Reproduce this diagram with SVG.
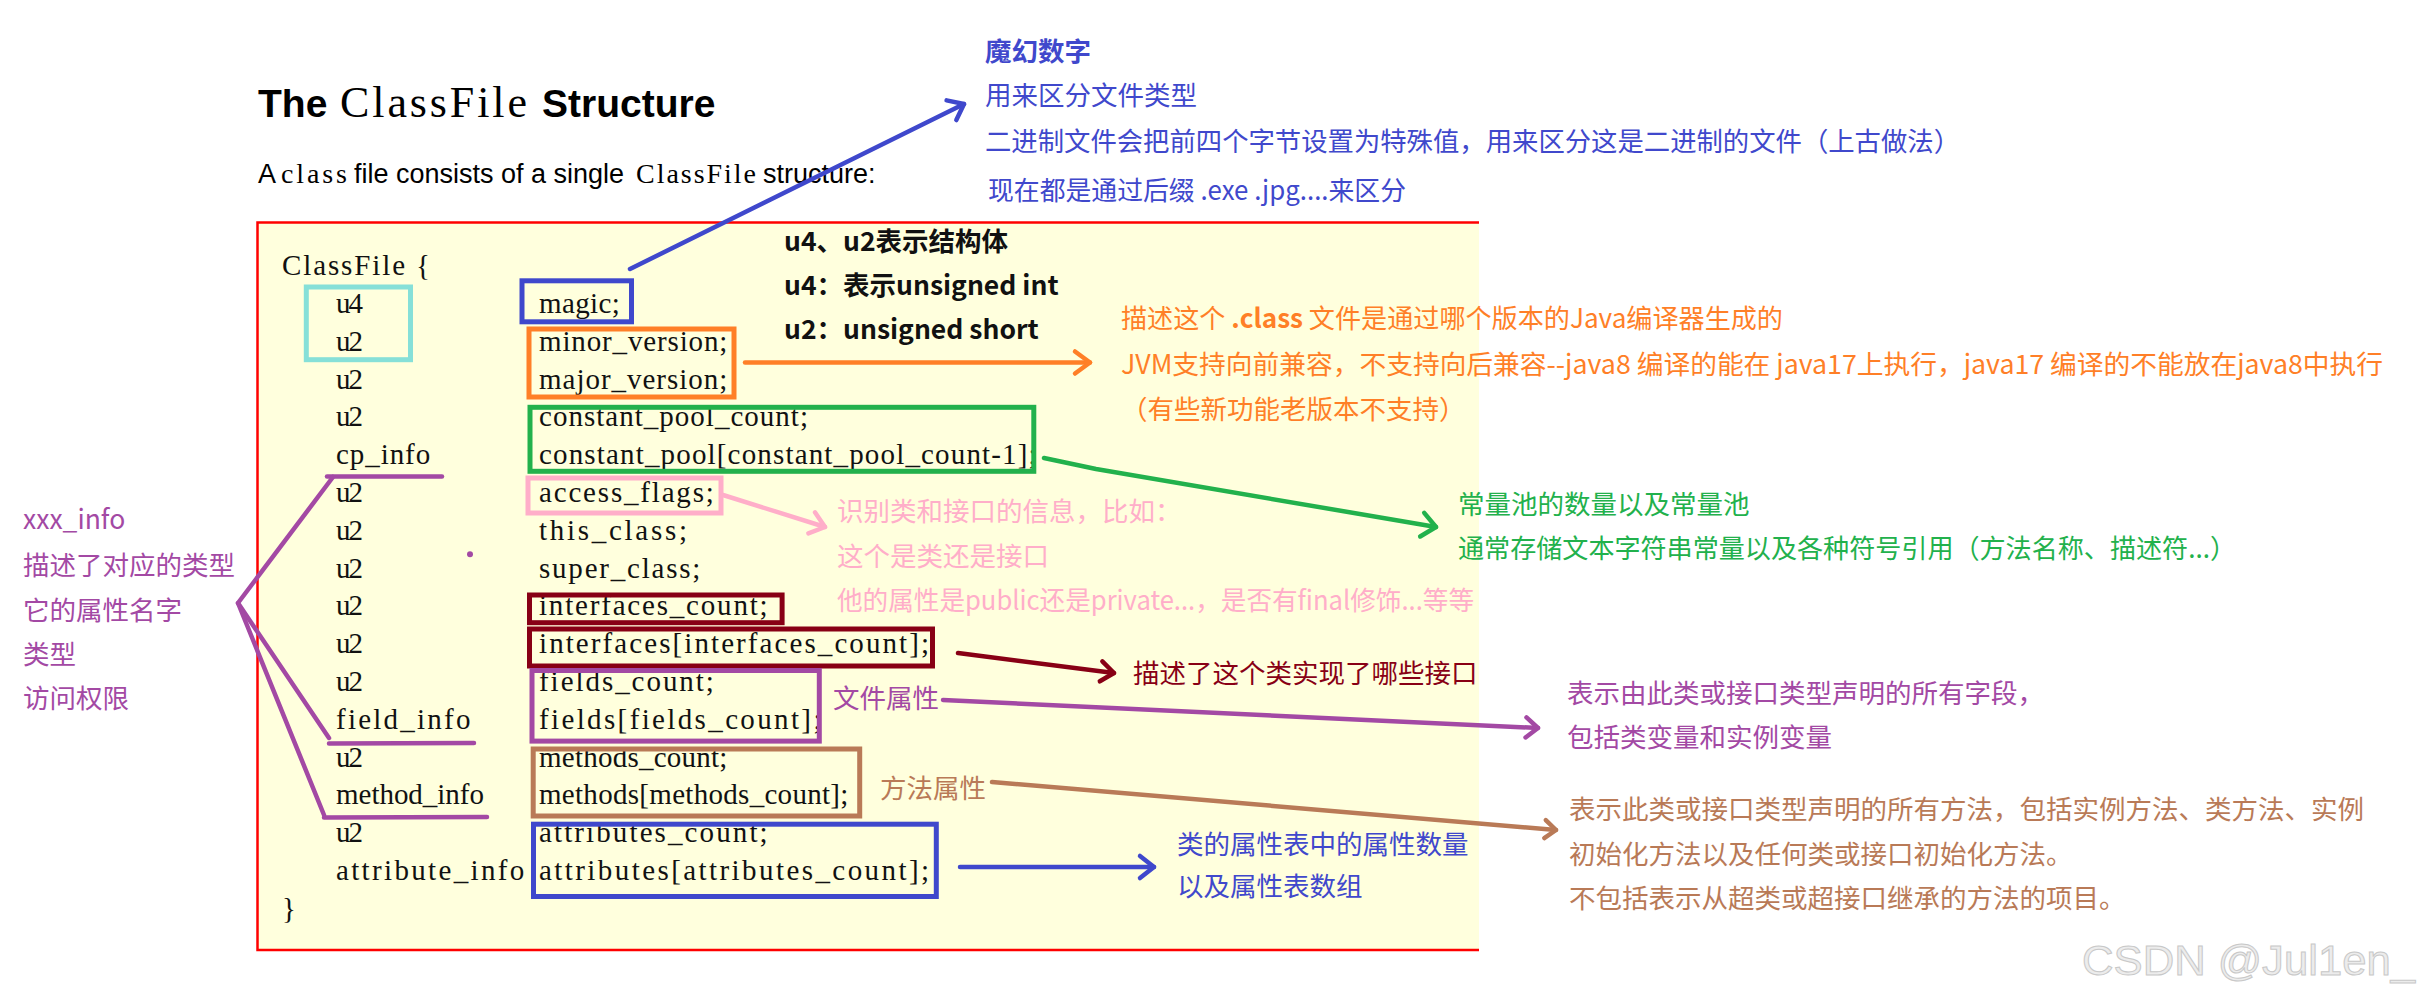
<svg xmlns="http://www.w3.org/2000/svg" width="2423" height="992" viewBox="0 0 2423 992">
<defs>
<style>
.bg{fill:#ffffff}
.code{font-family:"Liberation Serif","Times New Roman",serif;font-size:29px;fill:#111111}
.h1{font-family:"Liberation Sans",Arial,sans-serif;font-size:39px;font-weight:bold;fill:#000}
.h1m{font-family:"Liberation Serif","Times New Roman",serif;font-size:44px;fill:#000}
.sub{font-family:"Liberation Sans",Arial,sans-serif;font-size:27px;fill:#000}
.subm{font-family:"Liberation Serif","Times New Roman",serif;font-size:28px;fill:#000}
.note{font-family:"Noto Sans CJK SC","Liberation Sans",sans-serif;font-size:26.5px}
.b{font-weight:bold}
.c-blue{fill:#4048CC}
.c-orange{fill:#FF7F27}
.c-green{fill:#22B14C}
.c-pink{fill:#FFAEC9}
.c-dred{fill:#880015}
.c-purple{fill:#A349A4}
.c-brown{fill:#B97A57}
.c-black{fill:#111111}
.box{fill:none;stroke-width:5}
.ln{fill:none;stroke-width:4.5;stroke-linecap:round;stroke-linejoin:round}
.wm{font-family:"Liberation Sans",Arial,sans-serif;font-size:43px;fill:#ECECEC;stroke:#C8C8C8;stroke-width:1}
</style>
<marker id="ah-blue" viewBox="-20 -16 26 32" refX="0" refY="0" markerWidth="26" markerHeight="32" markerUnits="userSpaceOnUse" orient="auto" overflow="visible"><path d="M-14,-11 L0,0 L-14,11" fill="none" stroke="#3F48CC" stroke-width="4.5" stroke-linecap="round" stroke-linejoin="round"/></marker>
<marker id="ah-orange" viewBox="-20 -16 26 32" refX="0" refY="0" markerWidth="26" markerHeight="32" markerUnits="userSpaceOnUse" orient="auto" overflow="visible"><path d="M-15,-11 L0,0 L-15,11" fill="none" stroke="#FF7F27" stroke-width="4.5" stroke-linecap="round" stroke-linejoin="round"/></marker>
<marker id="ah-green" viewBox="-20 -16 26 32" refX="0" refY="0" markerWidth="26" markerHeight="32" markerUnits="userSpaceOnUse" orient="auto" overflow="visible"><path d="M-14,-12 L0,0 L-14,12" fill="none" stroke="#22B14C" stroke-width="4.5" stroke-linecap="round" stroke-linejoin="round"/></marker>
<marker id="ah-pink" viewBox="-20 -16 26 32" refX="0" refY="0" markerWidth="26" markerHeight="32" markerUnits="userSpaceOnUse" orient="auto" overflow="visible"><path d="M-14,-11 L0,0 L-14,11" fill="none" stroke="#FFAEC9" stroke-width="4.5" stroke-linecap="round" stroke-linejoin="round"/></marker>
<marker id="ah-dred" viewBox="-20 -16 26 32" refX="0" refY="0" markerWidth="26" markerHeight="32" markerUnits="userSpaceOnUse" orient="auto" overflow="visible"><path d="M-13,-10 L0,0 L-13,10" fill="none" stroke="#880015" stroke-width="4.5" stroke-linecap="round" stroke-linejoin="round"/></marker>
<marker id="ah-purple" viewBox="-20 -16 26 32" refX="0" refY="0" markerWidth="26" markerHeight="32" markerUnits="userSpaceOnUse" orient="auto" overflow="visible"><path d="M-12,-10 L0,0 L-12,10" fill="none" stroke="#A349A4" stroke-width="4.5" stroke-linecap="round" stroke-linejoin="round"/></marker>
<marker id="ah-brown" viewBox="-20 -16 26 32" refX="0" refY="0" markerWidth="26" markerHeight="32" markerUnits="userSpaceOnUse" orient="auto" overflow="visible"><path d="M-11,-9 L0,0 L-11,9" fill="none" stroke="#B97A57" stroke-width="4.5" stroke-linecap="round" stroke-linejoin="round"/></marker>
</defs>
<rect class="bg" x="0" y="0" width="2423" height="992"/>

<g id="title">
<text class="h1" x="258" y="117">The</text>
<text class="h1m" x="340" y="117" textLength="187" lengthAdjust="spacing">ClassFile</text>
<text class="h1" x="542" y="117">Structure</text>
</g>

<g id="subtitle">
<text class="sub" x="258" y="183">A</text>
<text class="subm" x="281" y="183" textLength="66" lengthAdjust="spacing">class</text>
<text class="sub" x="354" y="183">file consists of a single</text>
<text class="subm" x="636" y="183" textLength="120" lengthAdjust="spacing">ClassFile</text>
<text class="sub" x="763" y="183">structure:</text>
</g>

<g id="classfile-block">
<rect x="257" y="222" width="1222" height="729" fill="#FFFFDD"/>
<path d="M1479,222.5 H257.5 V950 H1479" fill="none" stroke="#FF0000" stroke-width="2.5"/>
<text class="code" x="282" y="275.2" textLength="147.95" lengthAdjust="spacing">ClassFile {</text>
<text class="code" x="336" y="313" textLength="26.9" lengthAdjust="spacing">u4</text>
<text class="code" x="336" y="350.8" textLength="26.9" lengthAdjust="spacing">u2</text>
<text class="code" x="336" y="388.6" textLength="26.9" lengthAdjust="spacing">u2</text>
<text class="code" x="336" y="426.4" textLength="26.9" lengthAdjust="spacing">u2</text>
<text class="code" x="336" y="464.2" textLength="94.15" lengthAdjust="spacing">cp_info</text>
<text class="code" x="336" y="502" textLength="26.9" lengthAdjust="spacing">u2</text>
<text class="code" x="336" y="539.8" textLength="26.9" lengthAdjust="spacing">u2</text>
<text class="code" x="336" y="577.6" textLength="26.9" lengthAdjust="spacing">u2</text>
<text class="code" x="336" y="615.4" textLength="26.9" lengthAdjust="spacing">u2</text>
<text class="code" x="336" y="653.2" textLength="26.9" lengthAdjust="spacing">u2</text>
<text class="code" x="336" y="691" textLength="26.9" lengthAdjust="spacing">u2</text>
<text class="code" x="336" y="728.8" textLength="134.5" lengthAdjust="spacing">field_info</text>
<text class="code" x="336" y="766.6" textLength="26.9" lengthAdjust="spacing">u2</text>
<text class="code" x="336" y="804.4" textLength="147.95" lengthAdjust="spacing">method_info</text>
<text class="code" x="336" y="842.2" textLength="26.9" lengthAdjust="spacing">u2</text>
<text class="code" x="336" y="880" textLength="188.3" lengthAdjust="spacing">attribute_info</text>
<text class="code" x="539" y="313" textLength="80.7" lengthAdjust="spacing">magic;</text>
<text class="code" x="539" y="350.8" textLength="188.3" lengthAdjust="spacing">minor_version;</text>
<text class="code" x="539" y="388.6" textLength="188.3" lengthAdjust="spacing">major_version;</text>
<text class="code" x="539" y="426.4" textLength="269" lengthAdjust="spacing">constant_pool_count;</text>
<text class="code" x="539" y="464.2" textLength="497.65" lengthAdjust="spacing">constant_pool[constant_pool_count-1];</text>
<text class="code" x="539" y="502" textLength="174.85" lengthAdjust="spacing">access_flags;</text>
<text class="code" x="539" y="539.8" textLength="147.95" lengthAdjust="spacing">this_class;</text>
<text class="code" x="539" y="577.6" textLength="161.4" lengthAdjust="spacing">super_class;</text>
<text class="code" x="539" y="615.4" textLength="228.65" lengthAdjust="spacing">interfaces_count;</text>
<text class="code" x="539" y="653.2" textLength="390.05" lengthAdjust="spacing">interfaces[interfaces_count];</text>
<text class="code" x="539" y="691" textLength="174.85" lengthAdjust="spacing">fields_count;</text>
<text class="code" x="539" y="728.8" textLength="282.45" lengthAdjust="spacing">fields[fields_count];</text>
<text class="code" x="539" y="766.6" textLength="188.3" lengthAdjust="spacing">methods_count;</text>
<text class="code" x="539" y="804.4" textLength="309.35" lengthAdjust="spacing">methods[methods_count];</text>
<text class="code" x="539" y="842.2" textLength="228.65" lengthAdjust="spacing">attributes_count;</text>
<text class="code" x="539" y="880" textLength="390.05" lengthAdjust="spacing">attributes[attributes_count];</text>
<text class="code" x="282" y="917.8">}</text>
</g>

<g id="highlights">
<rect id="box-u4u2" class="box" x="306.3" y="287" width="104.2" height="72.7" stroke="#86E0D8" stroke-width="4"/>
<rect id="box-magic" class="box" x="522" y="280.8" width="109.5" height="41" stroke="#3F48CC"/>
<rect id="box-version" class="box" x="529" y="329" width="205" height="68" stroke="#FF7F27"/>
<rect id="box-cpool" class="box" x="530" y="407.3" width="503.8" height="64" stroke="#22B14C"/>
<rect id="box-access" class="box" x="528" y="478" width="193" height="35" stroke="#FFAEC9" stroke-width="4.5"/>
<rect id="box-ifcount" class="box" x="529.5" y="595" width="252.6" height="27.7" stroke="#880015"/>
<rect id="box-ifarr" class="box" x="529.5" y="629" width="403" height="37" stroke="#880015"/>
<rect id="box-fields" class="box" x="532" y="670.5" width="287.3" height="70.6" stroke="#A349A4"/>
<rect id="box-methods" class="box" x="533.2" y="749" width="326.5" height="67" stroke="#B97A57"/>
<rect id="box-attrs" class="box" x="533.5" y="824.2" width="402.8" height="72.3" stroke="#3F48CC"/>
</g>

<g id="connectors">
<line class="ln" x1="630" y1="269" x2="964" y2="104" stroke="#3F48CC" marker-end="url(#ah-blue)"/>
<line class="ln" x1="745" y1="362.5" x2="1090" y2="362.5" stroke="#FF7F27" marker-end="url(#ah-orange)"/>
<polyline class="ln" points="1044,458 1096,469 1436,527" stroke="#22B14C" marker-end="url(#ah-green)"/>
<line class="ln" x1="723" y1="495" x2="825" y2="527" stroke="#FFAEC9" stroke-width="5" marker-end="url(#ah-pink)"/>
<line class="ln" x1="958" y1="653" x2="1114" y2="673" stroke="#880015" stroke-width="5" marker-end="url(#ah-dred)"/>
<line class="ln" x1="943" y1="700" x2="1538" y2="728" stroke="#A349A4" marker-end="url(#ah-purple)"/>
<line class="ln" x1="992" y1="782" x2="1556" y2="830" stroke="#B97A57" marker-end="url(#ah-brown)"/>
<line class="ln" x1="960" y1="867" x2="1154" y2="867" stroke="#3F48CC" marker-end="url(#ah-blue)"/>
<g stroke="#A349A4">
<line class="ln" x1="327" y1="476.5" x2="442" y2="476.5"/>
<line class="ln" x1="329" y1="743.5" x2="474" y2="743"/>
<line class="ln" x1="324" y1="817.5" x2="487" y2="817"/>
<polyline class="ln" points="333,477 238,603 329,738"/>
<line class="ln" x1="238" y1="603" x2="324" y2="815"/>
</g>
<circle cx="470" cy="554.3" r="3" fill="#A349A4"/>
</g>

<g id="note-types">
<text class="note b c-black" x="784" y="251">u4、u2表示结构体</text>
<text class="note b c-black" x="784" y="295">u4：表示unsigned int</text>
<text class="note b c-black" x="784" y="339">u2：unsigned short</text>
</g>

<g id="note-magic">
<text class="note b c-blue" x="985" y="61">魔幻数字</text>
<text class="note c-blue" x="985" y="105">用来区分文件类型</text>
<text class="note c-blue" x="985" y="151" textLength="975" lengthAdjust="spacingAndGlyphs">二进制文件会把前四个字节设置为特殊值，用来区分这是二进制的文件（上古做法）</text>
<text class="note c-blue" x="988" y="200" textLength="418" lengthAdjust="spacingAndGlyphs">现在都是通过后缀 .exe .jpg....来区分</text>
</g>

<g id="note-version">
<text class="note c-orange" x="1121" y="328" textLength="662" lengthAdjust="spacingAndGlyphs">描述这个 <tspan class="b">.class</tspan> 文件是通过哪个版本的Java编译器生成的</text>
<text class="note c-orange" x="1121" y="374" textLength="1262" lengthAdjust="spacingAndGlyphs">JVM支持向前兼容，不支持向后兼容--java8 编译的能在 java17上执行，java17 编译的不能放在java8中执行</text>
<text class="note c-orange" x="1121" y="419">（有些新功能老版本不支持）</text>
</g>

<g id="note-cpool">
<text class="note c-green" x="1458" y="514">常量池的数量以及常量池</text>
<text class="note c-green" x="1458" y="558" textLength="778" lengthAdjust="spacingAndGlyphs">通常存储文本字符串常量以及各种符号引用（方法名称、描述符...）</text>
</g>

<g id="note-access">
<text class="note c-pink" x="837" y="521">识别类和接口的信息，比如：</text>
<text class="note c-pink" x="837" y="566">这个是类还是接口</text>
<text class="note c-pink" x="837" y="610" textLength="637" lengthAdjust="spacingAndGlyphs">他的属性是public还是private...，是否有final修饰...等等</text>
</g>

<g id="note-interfaces">
<text class="note c-dred" x="1133" y="683">描述了这个类实现了哪些接口</text>
</g>

<g id="note-fields">
<text class="note c-purple" x="833" y="708">文件属性</text>
<text class="note c-purple" x="1567" y="703">表示由此类或接口类型声明的所有字段，</text>
<text class="note c-purple" x="1567" y="747">包括类变量和实例变量</text>
</g>

<g id="note-methods">
<text class="note c-brown" x="880" y="798">方法属性</text>
<text class="note c-brown" x="1569" y="819">表示此类或接口类型声明的所有方法，包括实例方法、类方法、实例</text>
<text class="note c-brown" x="1569" y="864">初始化方法以及任何类或接口初始化方法。</text>
<text class="note c-brown" x="1569" y="908">不包括表示从超类或超接口继承的方法的项目。</text>
</g>

<g id="note-attributes">
<text class="note c-blue" x="1177" y="854">类的属性表中的属性数量</text>
<text class="note c-blue" x="1177" y="896">以及属性表数组</text>
</g>

<g id="note-info">
<text class="note c-purple" x="23" y="529">xxx_info</text>
<text class="note c-purple" x="23" y="575">描述了对应的类型</text>
<text class="note c-purple" x="23" y="620">它的属性名字</text>
<text class="note c-purple" x="23" y="664">类型</text>
<text class="note c-purple" x="23" y="708">访问权限</text>
</g>

<g id="watermark">
<text class="wm" x="2082" y="975" textLength="333" lengthAdjust="spacingAndGlyphs">CSDN @Jul1en_</text>
</g>
</svg>
